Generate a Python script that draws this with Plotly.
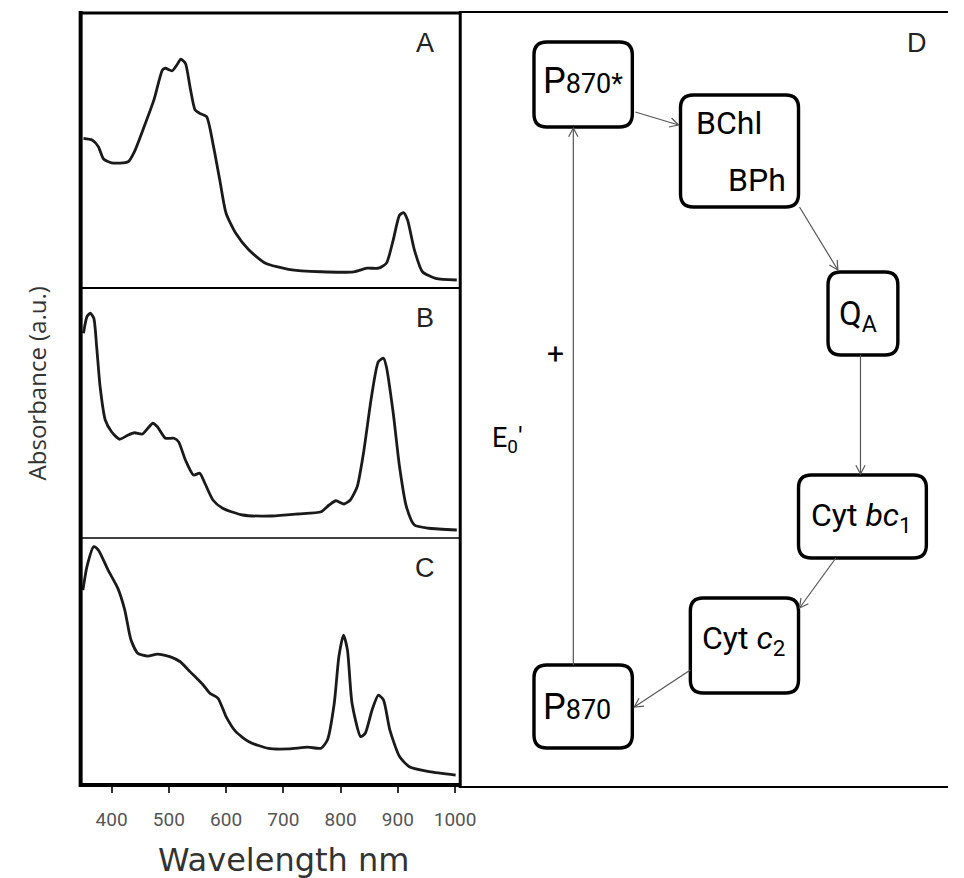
import numpy as np
import plotly.graph_objects as go

# ---------------- data ----------------
wl_A = [351, 366, 377, 386, 400, 429, 440, 457, 474, 489, 494, 506, 514, 521, 529, 537, 546, 554,
        566, 577, 589, 600, 617, 640, 669, 709, 766, 823, 846, 866, 880, 892, 903, 910, 917, 929,
        943, 966, 1003]
abs_A = [0.544, 0.538, 0.514, 0.469, 0.455, 0.459, 0.496, 0.587, 0.684, 0.793, 0.799, 0.790, 0.811,
         0.832, 0.817, 0.732, 0.647, 0.635, 0.623, 0.526, 0.393, 0.272, 0.199, 0.138, 0.090, 0.068,
         0.059, 0.059, 0.072, 0.072, 0.090, 0.175, 0.265, 0.274, 0.247, 0.138, 0.059, 0.035, 0.029]

wl_B = [351, 357, 363, 369, 374, 380, 389, 400, 414, 429, 440, 454, 472, 480, 494, 509, 517, 529,
        543, 554, 563, 577, 594, 629, 680, 726, 766, 780, 792, 806, 817, 829, 840, 854, 866, 875,
        880, 892, 903, 915, 929, 955, 1003]
abs_B = [0.819, 0.885, 0.899, 0.879, 0.765, 0.605, 0.472, 0.425, 0.395, 0.412, 0.421, 0.416, 0.459,
         0.445, 0.399, 0.399, 0.385, 0.312, 0.252, 0.259, 0.219, 0.152, 0.119, 0.092, 0.088, 0.096,
         0.105, 0.132, 0.149, 0.136, 0.152, 0.205, 0.339, 0.565, 0.705, 0.719, 0.685, 0.499, 0.285,
         0.125, 0.052, 0.039, 0.032]

wl_C = [350, 357, 369, 377, 394, 411, 423, 434, 446, 463, 480, 503, 520, 537, 560, 572, 586, 600,
        617, 640, 674, 709, 743, 766, 777, 789, 797, 805, 812, 820, 835, 843, 855, 866, 875, 886,
        903, 920, 955, 1001]
abs_C = [0.789, 0.884, 0.965, 0.951, 0.870, 0.796, 0.709, 0.587, 0.533, 0.522, 0.530, 0.519, 0.499,
         0.459, 0.405, 0.371, 0.351, 0.277, 0.216, 0.175, 0.148, 0.146, 0.153, 0.149, 0.182, 0.331,
         0.519, 0.607, 0.547, 0.331, 0.196, 0.209, 0.304, 0.364, 0.344, 0.223, 0.115, 0.074, 0.054,
         0.040]

tick_vals = [400, 500, 600, 700, 800, 900, 1000]
tick_text = ["400", "500", "600", "700", "800", "900", "1000"]
panel_labels = ["A", "B", "C"]

# ---------------- layout helpers ----------------
W, H = 964, 878
def PX(x): return x / W
def PY(y): return 1 - y / H

LEFT, RIGHT = 82, 468
panels = [(13, 288), (288, 538), (538, 785)]
XR = [346, 1009]

NARROW = "Roboto, sans-serif"

fig = go.Figure()
series = [(wl_A, abs_A), (wl_B, abs_B), (wl_C, abs_C)]
for i, (xs, ys) in enumerate(series):
    sfx = "" if i == 0 else str(i + 1)
    fig.add_trace(go.Scatter(x=xs, y=ys, mode="lines", xaxis="x" + sfx, yaxis="y" + sfx,
                             line=dict(color="#1a1a1a", width=2.8, shape="spline", smoothing=0.6),
                             showlegend=False, hoverinfo="skip"))

layout = dict(width=W, height=H, margin=dict(l=0, r=0, t=0, b=0),
              paper_bgcolor="white", plot_bgcolor="rgba(0,0,0,0)", showlegend=False)
for i, (top, bot) in enumerate(panels):
    sfx = "" if i == 0 else str(i + 1)
    xa = dict(domain=[PX(LEFT), PX(RIGHT)], range=XR, showgrid=False, zeroline=False,
              showline=False, anchor="y" + sfx)
    if i == 2:
        xa.update(tickmode="array", tickvals=tick_vals, ticktext=tick_text, ticks="outside",
                  ticklen=7, tickwidth=2, tickcolor="#333", ticklabelstandoff=10,
                  tickfont=dict(family="Roboto, sans-serif", size=19, color="#555"))
    else:
        xa.update(showticklabels=False, ticks="")
    ya = dict(domain=[PY(bot), PY(top)], range=[0, 1.0], showgrid=False, zeroline=False,
              showticklabels=False, ticks="", showline=False, anchor="x" + sfx)
    layout["xaxis" + sfx] = xa
    layout["yaxis" + sfx] = ya
fig.update_layout(**layout)

shapes = []
def line(x0, y0, x1, y1, w, c="black"):
    shapes.append(dict(type="line", xref="paper", yref="paper", x0=PX(x0), y0=PY(y0),
                       x1=PX(x1), y1=PY(y1), line=dict(color=c, width=w)))

# frames
line(LEFT, 11, LEFT, 787, 4)
line(LEFT, 13, RIGHT, 13, 3)
line(LEFT, 288, RIGHT, 288, 2.2)
line(LEFT, 538, RIGHT, 538, 1.5)
line(LEFT, 785, RIGHT, 785, 4)
line(RIGHT, 11, RIGHT, 788, 3)
line(RIGHT, 12, W, 12, 2)
line(RIGHT, 787, W, 787, 2)

def rbox(x0, y0, x1, y1, r=13):
    p = [(x0 + r, y0), (x1 - r, y0), (x1, y0), (x1, y0 + r), (x1, y1 - r), (x1, y1),
         (x1 - r, y1), (x0 + r, y1), (x0, y1), (x0, y1 - r), (x0, y0 + r), (x0, y0), (x0 + r, y0)]
    q = [(PX(a), PY(b)) for a, b in p]
    path = ("M {0[0]},{0[1]} L {1[0]},{1[1]} Q {2[0]},{2[1]} {3[0]},{3[1]} L {4[0]},{4[1]} "
            "Q {5[0]},{5[1]} {6[0]},{6[1]} L {7[0]},{7[1]} Q {8[0]},{8[1]} {9[0]},{9[1]} "
            "L {10[0]},{10[1]} Q {11[0]},{11[1]} {12[0]},{12[1]} Z").format(*q)
    shapes.append(dict(type="path", xref="paper", yref="paper", path=path,
                       line=dict(color="black", width=3.4), fillcolor="white"))

def arrow(x0, y0, x1, y1, L=10, ang=28):
    line(x0, y0, x1, y1, 1.2, "#555")
    d = np.array([x1 - x0, y1 - y0], float)
    d /= np.linalg.norm(d)
    pts = []
    for s in (1, -1):
        a = np.radians(ang) * s
        rot = np.array([[np.cos(a), -np.sin(a)], [np.sin(a), np.cos(a)]])
        h = np.array([x1, y1]) - L * rot.dot(d)
        pts.append(h)
    path = "M {},{} L {},{} L {},{}".format(PX(pts[0][0]), PY(pts[0][1]), PX(x1), PY(y1),
                                             PX(pts[1][0]), PY(pts[1][1]))
    shapes.append(dict(type="path", xref="paper", yref="paper", path=path,
                       line=dict(color="#555", width=1.2)))

# boxes
rbox(543, 42, 643, 127)     # P870*
rbox(692, 95, 812, 207)     # BChl / BPh
rbox(842, 272, 913, 355)    # QA
rbox(812, 475, 942, 558)    # Cyt bc1
rbox(702, 598, 812, 693)    # Cyt c2
rbox(543, 665, 643, 748)    # P870

arrow(646, 112, 690, 125)
arrow(813, 207, 852, 270)
arrow(875, 355, 875, 474)
arrow(850, 558, 813, 608)
arrow(702, 670, 645, 707)
arrow(583, 665, 583, 128)

fig.update_layout(shapes=shapes)

ann = []
def text(x, y, s, size, fam=NARROW, color="black", xanchor="center", angle=0):
    ann.append(dict(x=PX(x), y=PY(y), xref="paper", yref="paper", text=s, showarrow=False,
                    xanchor=xanchor, yanchor="middle", textangle=angle,
                    font=dict(family=fam, size=size, color=color)))

for lab, (top, bot) in zip(panel_labels, panels):
    text(432, top + 30, lab, 27, "Liberation Sans, Arial, sans-serif", "#222")
text(932, 43, "D", 27, "Liberation Sans, Arial, sans-serif", "#222")

text(593, 81, "P<span style='font-size:27px'>870*</span>", 36)
text(706, 123, "BChl", 32, xanchor="left")
text(801, 180, "BPh", 32, xanchor="right")
text(872, 316, "Q<sub>A</sub>", 33)
text(876, 517, "Cyt <i>bc</i><sub>1</sub>", 32)
text(756, 640, "Cyt <i>c</i><sub>2</sub>", 32)
text(587, 707, "P<span style='font-size:27px'>870</span>", 36)
text(565, 354, "+", 30)
text(516, 440, "E<sub>0</sub>′", 27)

text(37, 383, "Absorbance (a.u.)", 24, "Open Sans, sans-serif", "#333", angle=-90)
text(288, 860, "Wavelength nm", 32, "DejaVu Sans, sans-serif", "#333")

fig.update_layout(annotations=ann)
fig.write_html("out.html")
